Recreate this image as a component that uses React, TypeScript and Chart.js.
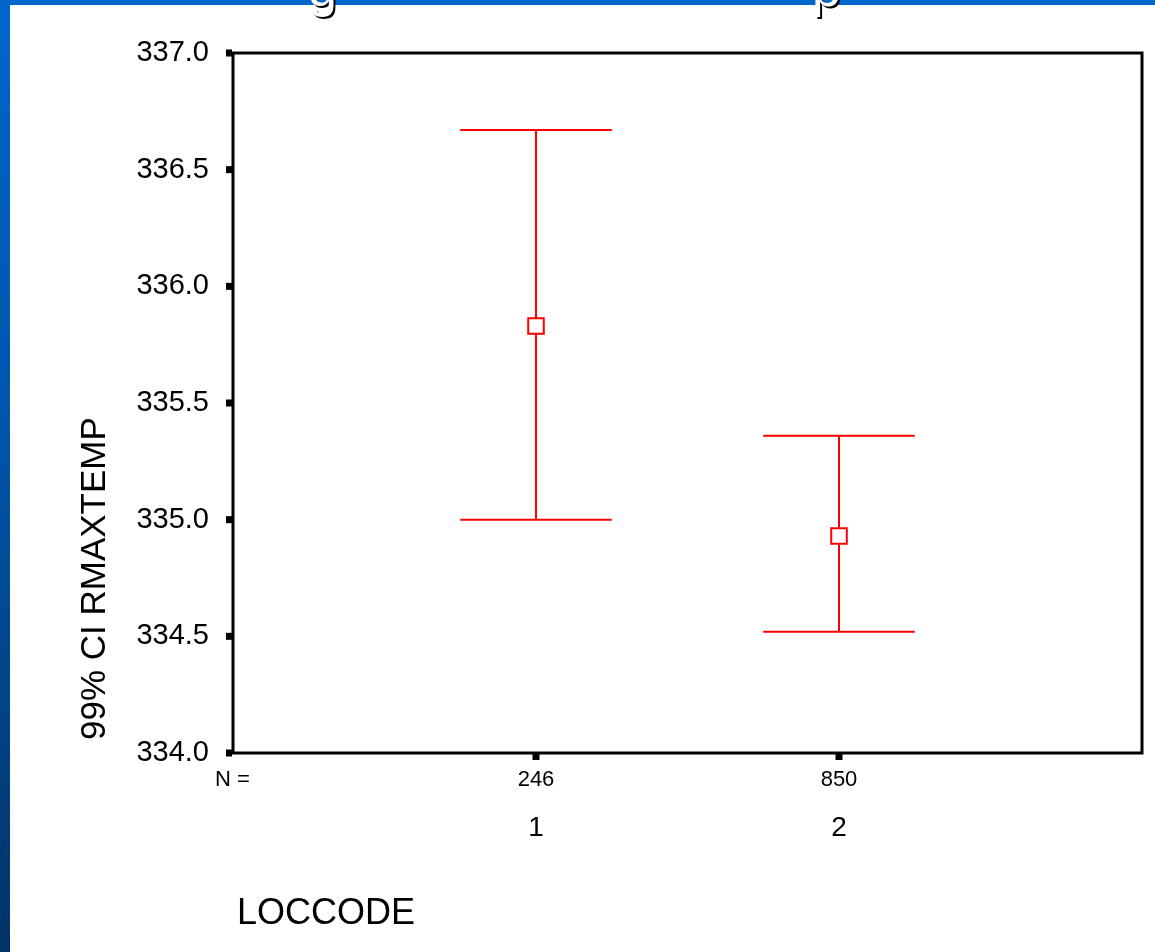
import React, { useEffect, useRef } from "react";
import { Chart, registerables } from "chart.js";

Chart.register(...registerables);

// ---- data ----
const CATEGORIES = [1, 2];
const CATEGORY_LABELS = ["1", "2"];
const N_COUNTS = ["246", "850"];
const MEANS = [335.83, 334.93];
const UPPER = [336.67, 335.36];
const LOWER = [335.0, 334.52];
const Y_MIN = 334;
const Y_MAX = 337;
const Y_STEP = 0.5;
const X_MIN = 0;
const X_MAX = 3;
const Y_TITLE = "99% CI RMAXTEMP";
const X_TITLE = "LOCCODE";
const N_LABEL = "N =";

const CAP_HALF = 0.25;
const FONT = "'Liberation Sans', Arial, sans-serif";
const RED = "#ff0000";

const spssPlugin = {
  id: "spssErrorBars",
  beforeDatasetsDraw(chart: any) {
    const { ctx } = chart;
    const x = chart.scales.x;
    const y = chart.scales.y;
    ctx.save();
    ctx.strokeStyle = RED;
    ctx.lineWidth = 2;
    CATEGORIES.forEach((c, i) => {
      const px = x.getPixelForValue(c);
      const l = x.getPixelForValue(c - CAP_HALF);
      const r = x.getPixelForValue(c + CAP_HALF);
      const yt = y.getPixelForValue(UPPER[i]);
      const yb = y.getPixelForValue(LOWER[i]);
      ctx.beginPath();
      ctx.moveTo(px, yt);
      ctx.lineTo(px, yb);
      ctx.moveTo(l, yt);
      ctx.lineTo(r, yt);
      ctx.moveTo(l, yb);
      ctx.lineTo(r, yb);
      ctx.stroke();
    });
    ctx.restore();
  },
  afterDraw(chart: any) {
    const { ctx, chartArea } = chart;
    const x = chart.scales.x;
    const y = chart.scales.y;
    const { left, top, right, bottom } = chartArea;
    ctx.save();
    // frame
    ctx.strokeStyle = "#000";
    ctx.lineWidth = 3;
    ctx.strokeRect(left, top, right - left, bottom - top);
    // y tick squares
    ctx.fillStyle = "#000";
    y.ticks.forEach((t: any) => {
      const py = y.getPixelForValue(t.value);
      ctx.fillRect(left - 7, py - 3.5, 6, 7);
    });
    // x tick squares
    CATEGORIES.forEach((c) => {
      const px = x.getPixelForValue(c);
      ctx.fillRect(px - 3.5, bottom + 1, 7, 6);
    });
    // N row
    ctx.font = `22px ${FONT}`;
    ctx.textBaseline = "alphabetic";
    ctx.textAlign = "left";
    ctx.fillText(N_LABEL, left - 18, bottom + 33);
    ctx.textAlign = "center";
    CATEGORIES.forEach((c, i) => {
      ctx.fillText(N_COUNTS[i], x.getPixelForValue(c), bottom + 33);
    });
    // x title
    ctx.font = `36px ${FONT}`;
    ctx.textAlign = "left";
    ctx.fillText(X_TITLE, left + 4, bottom + 171);
    // y title
    ctx.save();
    ctx.translate(105, bottom - 13);
    ctx.rotate(-Math.PI / 2);
    ctx.font = `35px ${FONT}`;
    ctx.textAlign = "left";
    ctx.fillText(Y_TITLE, 0, 0);
    ctx.restore();
    ctx.restore();
  },
};

export default function App() {
  const canvasRef = useRef<HTMLCanvasElement | null>(null);

  useEffect(() => {
    if (!canvasRef.current) return;
    const chart = new Chart(canvasRef.current, {
      type: "scatter",
      data: {
        datasets: [
          {
            data: CATEGORIES.map((c, i) => ({ x: c, y: MEANS[i] })),
            pointStyle: "rect",
            pointRadius: 11,
            pointHoverRadius: 11,
            borderWidth: 2,
            borderColor: RED,
            backgroundColor: "#ffffff",
          },
        ],
      },
      options: {
        animation: false,
        responsive: false,
        maintainAspectRatio: false,
        events: [],
        layout: { padding: { top: 53, right: 5, left: 0, bottom: 0 } },
        plugins: { legend: { display: false }, tooltip: { enabled: false } },
        scales: {
          x: {
            type: "linear",
            min: X_MIN,
            max: X_MAX,
            grid: { display: false },
            border: { display: false },
            afterBuildTicks: (scale: any) => {
              scale.ticks = CATEGORIES.map((v) => ({ value: v }));
            },
            afterFit: (scale: any) => {
              scale.height = 199;
            },
            ticks: {
              autoSkip: false,
              maxRotation: 0,
              padding: 50,
              color: "#000",
              font: { family: FONT, size: 28 },
              callback: (_v: any, i: number) => CATEGORY_LABELS[i],
            },
          },
          y: {
            type: "linear",
            min: Y_MIN,
            max: Y_MAX,
            grid: { display: false },
            border: { display: false },
            afterFit: (scale: any) => {
              scale.width = 233;
            },
            ticks: {
              stepSize: Y_STEP,
              padding: 16,
              color: "#000",
              font: { family: FONT, size: 29 },
              callback: (v: any) => Number(v).toFixed(1),
            },
          },
        },
      },
      plugins: [spssPlugin],
    });
    return () => chart.destroy();
  }, []);

  const letterStyle: React.CSSProperties = {
    position: "absolute",
    top: -38,
    fontFamily: FONT,
    fontSize: 52,
    lineHeight: "52px",
    color: "#fff",
    textShadow: "2px 2px 0 #000",
  };

  return (
    <div
      style={{
        position: "fixed",
        left: 0,
        top: 0,
        width: 1155,
        height: 952,
        overflow: "hidden",
        background: "#ffffff",
      }}
    >
      <div
        style={{
          position: "absolute",
          left: 0,
          top: 0,
          width: 1155,
          height: 5,
          background: "#0066cc",
        }}
      />
      <div
        style={{
          position: "absolute",
          left: 0,
          top: 0,
          width: 10,
          height: 952,
          background: "linear-gradient(#0066cc, #0055aa 45%, #003366)",
        }}
      />
      <span style={{ ...letterStyle, left: 308 }}>g</span>
      <span style={{ ...letterStyle, left: 812 }}>p</span>
      <canvas
        ref={canvasRef}
        width={1155}
        height={952}
        style={{ position: "absolute", left: 0, top: 0, width: 1155, height: 952 }}
      />
    </div>
  );
}
